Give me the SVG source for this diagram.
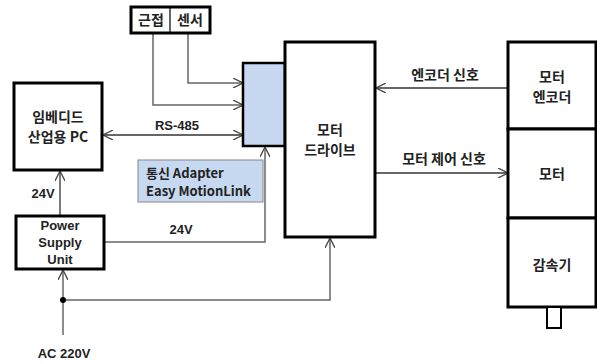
<svg xmlns="http://www.w3.org/2000/svg" width="597" height="364" viewBox="0 0 597 364">
<style>
.box{fill:#fff;stroke:#000;stroke-width:3}
.blue{fill:#c6d9f0;stroke:#000;stroke-width:2.5}
.t{font-family:"Noto Sans CJK KR","Liberation Sans",sans-serif;font-size:14px;font-weight:bold;fill:#222;text-anchor:middle}
.e{font-family:"Liberation Sans","Noto Sans CJK KR",sans-serif;font-size:13px;font-weight:bold;fill:#222;text-anchor:middle}
.tl{font-family:"Noto Sans CJK KR","Liberation Sans",sans-serif;font-size:13px;font-weight:bold;fill:#222}
.c{fill:none;stroke:#333;stroke-width:1.3}
.g{fill:none;stroke:#666;stroke-width:1.5}
</style>
<defs>
<marker id="ah" viewBox="0 0 10 10" refX="10" refY="5" markerWidth="10" markerHeight="10" markerUnits="userSpaceOnUse" orient="auto-start-reverse">
<path d="M0,0 L10,5 L0,10" fill="none" stroke="#444" stroke-width="1.3"/>
</marker>
</defs>
<rect width="597" height="364" fill="#fff"/>
<g id="connectors">
<path class="g" d="M153,33 V105 H243" marker-end="url(#ah)"/>
<path class="g" d="M188,33 V83 H243" marker-end="url(#ah)"/>
<path class="c" d="M103,135 H243" marker-start="url(#ah)" marker-end="url(#ah)"/>
<path class="g" d="M104,242 H265 V147" marker-end="url(#ah)"/>
<path class="c" d="M60,216 V171" marker-end="url(#ah)"/>
<path class="g" d="M63,335 V270" marker-end="url(#ah)"/>
<path class="g" d="M63,300 H330 V238" marker-end="url(#ah)"/>
<circle cx="63" cy="300" r="3" fill="#000"/>
<path class="c" d="M508,88 H376" marker-end="url(#ah)"/>
<path class="c" d="M376,173 H508" marker-end="url(#ah)"/>
<text class="e" x="177" y="130">RS-485</text>
<text class="e" x="43" y="198">24V</text>
<text class="e" x="181" y="234">24V</text>
<text class="e" x="64" y="358">AC 220V</text>
<text class="t" x="445" y="80">엔코더 신호</text>
<text class="t" x="444" y="164">모터 제어 신호</text>
</g>
<g id="sensor">
<rect class="box" x="131" y="7" width="79" height="26"/>
<line x1="170" y1="7" x2="170" y2="33" stroke="#000" stroke-width="1.2"/>
<text class="t" x="151" y="25">근접</text>
<text class="t" x="190" y="25">센서</text>
</g>
<g id="pc">
<rect class="box" x="14" y="83" width="88" height="87"/>
<text class="t" x="58" y="122">임베디드</text>
<text class="t" x="58" y="142">산업용 PC</text>
</g>
<g id="comm">
<rect class="blue" x="243" y="63" width="42" height="83"/>
</g>
<g id="adapter">
<rect x="138" y="160" width="125" height="42" fill="#c6d9f0" stroke="#888" stroke-width="1"/>
<text class="tl" x="146" y="178">통신 Adapter</text>
<text class="tl" x="146" y="196">Easy MotionLink</text>
</g>
<g id="psu">
<rect class="box" x="16" y="216" width="88" height="53"/>
<text class="e" x="60" y="230">Power</text>
<text class="e" x="60" y="247">Supply</text>
<text class="e" x="60" y="264">Unit</text>
</g>
<g id="drive">
<rect class="box" x="285" y="42" width="90" height="195"/>
<text class="t" x="330" y="135">모터</text>
<text class="t" x="330" y="155">드라이브</text>
</g>
<g id="encoder">
<rect class="box" x="508" y="42" width="88" height="87"/>
<text class="t" x="552" y="82">모터</text>
<text class="t" x="552" y="102">엔코더</text>
</g>
<g id="motor">
<rect class="box" x="508" y="129" width="88" height="89"/>
<text class="t" x="552" y="179">모터</text>
</g>
<g id="reducer">
<rect class="box" x="508" y="218" width="88" height="89"/>
<text class="t" x="552" y="270">감속기</text>
<rect x="547" y="307" width="14" height="21" fill="#fff" stroke="#000" stroke-width="2"/>
</g>
</svg>
